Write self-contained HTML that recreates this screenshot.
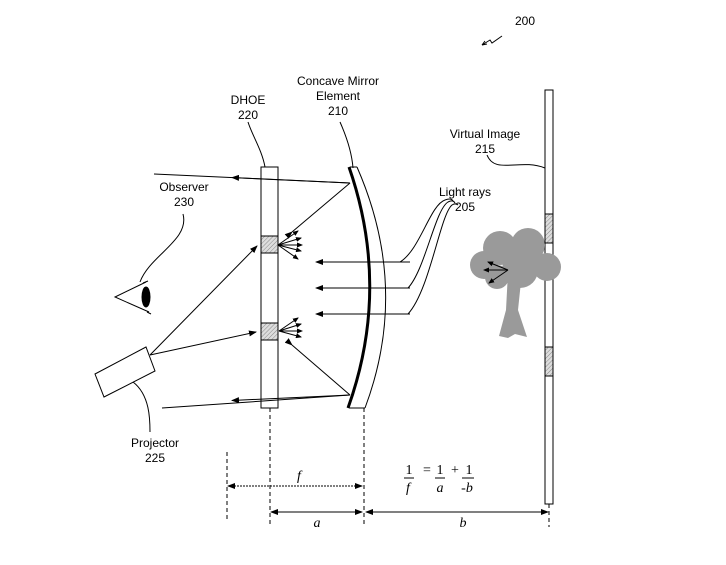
<!DOCTYPE html>
<html><head><style>
body{margin:0;background:#fff;}
svg{display:block;font-family:"Liberation Sans",sans-serif;}
</style></head><body>
<svg width="726" height="565" viewBox="0 0 726 565" xmlns="http://www.w3.org/2000/svg">
<defs>
<marker id="ar" markerWidth="8" markerHeight="6" refX="7" refY="3" orient="auto" markerUnits="userSpaceOnUse"><path d="M0,0 L8,3 L0,6 z" fill="#000"/></marker>
<marker id="as" markerWidth="6" markerHeight="5" refX="5" refY="2.5" orient="auto" markerUnits="userSpaceOnUse"><path d="M0,0 L6,2.5 L0,5 z" fill="#000"/></marker>
<marker id="al" markerWidth="8" markerHeight="6" refX="1" refY="3" orient="auto" markerUnits="userSpaceOnUse"><path d="M8,0 L0,3 L8,6 z" fill="#000"/></marker>
<pattern id="h" width="3" height="3" patternUnits="userSpaceOnUse" patternTransform="rotate(45)"><rect width="3" height="3" fill="#ddd"/><line x1="0" y1="0" x2="0" y2="3" stroke="#888" stroke-width="1"/></pattern>
</defs>
<g stroke="#000" fill="none" stroke-width="1">
<path d="M482,45 l8,-5 l2,3 l10,-7" />
<path d="M482,45 l3,-4 M482,45 l5,-1"/>
<rect x="261" y="167" width="17" height="241" fill="#fff"/>
<rect x="261" y="236" width="17" height="17" fill="url(#h)"/>
<rect x="261" y="323" width="17" height="17" fill="url(#h)"/>
<path d="M349,167 Q391,288 348,408" stroke-width="3"/>
<path d="M357,167 Q410,288 365,408"/>
<path d="M350,167 L357,167 M349,408 L365,408"/>
<rect x="545" y="90" width="8" height="414" fill="#fff"/>
<rect x="545" y="347" width="8" height="29" fill="url(#h)"/>
<path d="M350,183 L154,174"/><path d="M350,183 L232,177.5" marker-end="url(#ar)"/>
<path d="M350,395 L162,408"/><path d="M350,395 L232,400.5" marker-end="url(#ar)"/>
<path d="M150,355 L257,246" marker-end="url(#ar)"/>
<path d="M150,355 L256,332" marker-end="url(#ar)"/>
<path d="M350,183 L292,232" marker-end="url(#al)" />
<path d="M350,395 L292,345" marker-end="url(#al)"/>
<path d="M278,245 L298,231" marker-end="url(#as)"/>
<path d="M278,245 L301,238" marker-end="url(#as)"/>
<path d="M278,245 L302,245" marker-end="url(#as)"/>
<path d="M278,245 L301,251" marker-end="url(#as)"/>
<path d="M278,245 L298,259" marker-end="url(#as)"/>
<path d="M279,331 L298,318" marker-end="url(#as)"/>
<path d="M279,331 L301,324" marker-end="url(#as)"/>
<path d="M279,331 L302,331" marker-end="url(#as)"/>
<path d="M279,331 L301,337" marker-end="url(#as)"/>
<path d="M410,262 L316,262" marker-end="url(#ar)"/>
<path d="M410,288 L316,288" marker-end="url(#ar)"/>
<path d="M410,314 L316,314" marker-end="url(#ar)"/>
<path d="M400,262 C420,250 430,205 445,200 C450,198 452,199 453,201"/>
<path d="M408,288 C425,270 435,210 448,202 C452,200 454,201 455,203"/>
<path d="M408,314 C430,290 440,215 452,205 C455,203 457,204 458,205"/>
<path d="M487,155 C495,175 520,158 545,168"/>
<path d="M340,122 C348,140 352,155 353,168"/>
<path d="M248,122 C252,135 262,150 265,167"/>
<path d="M183,214 C190,240 150,255 140,282"/>
<path d="M133,382 C150,395 150,420 150,432"/>
<path d="M146,282 L115,297 L149,312"/>
<path d="M143,283 L148,281 M147,312 L151,314"/>
<ellipse cx="146" cy="297" rx="4" ry="10" fill="#000"/>
<path d="M95,374 L146,347 L155,371 L104,397 Z" fill="#fff"/>
<g stroke-dasharray="4,3">
<path d="M270,408 L270,527"/><path d="M364,408 L364,527"/>
<path d="M227,452 L227,522"/><path d="M549,504 L549,527"/>
</g>
<path d="M228,486 L362,486" marker-start="url(#al)" marker-end="url(#ar)" stroke-dasharray="2,1"/>
<path d="M271,512 L362,512" marker-start="url(#al)" marker-end="url(#ar)"/>
<path d="M366,512 L548,512" marker-start="url(#al)" marker-end="url(#ar)"/>
</g>
<g fill="#9a9a9a">
<circle cx="484" cy="265" r="14"/><circle cx="500" cy="248" r="17"/><circle cx="528" cy="245" r="17"/>
<circle cx="547" cy="267" r="14"/><circle cx="520" cy="270" r="18"/><circle cx="497" cy="277" r="12"/>
<path d="M508,272 L522,272 L518,310 L527,337 L515,334 L508,338 L499,336 L506,310 Z"/>
</g>
<g stroke="#000" fill="none">
<path d="M508,270 L488,262" marker-end="url(#as)"/><path d="M508,270 L484,270" marker-end="url(#as)"/><path d="M508,270 L489,283" marker-end="url(#as)"/>
</g>
<rect x="545" y="214" width="8" height="29" fill="url(#h)" stroke="#000"/>
<g font-size="12" fill="#000" text-anchor="middle">
<text x="525" y="25">200</text>
<text x="338" y="85">Concave Mirror</text><text x="338" y="100">Element</text><text x="338" y="115">210</text>
<text x="248" y="104">DHOE</text><text x="248" y="119">220</text>
<text x="184" y="191">Observer</text><text x="184" y="206">230</text>
<text x="465" y="196">Light rays</text><text x="465" y="211">205</text>
<text x="485" y="138">Virtual Image</text><text x="485" y="153">215</text>
<text x="155" y="447">Projector</text><text x="155" y="462">225</text>
</g>
<g font-family="Liberation Serif,serif" font-size="14" font-style="italic" text-anchor="middle" fill="#000">
<text x="299" y="480">f</text><text x="317" y="527">a</text><text x="463" y="527">b</text>
<text x="409" y="474" font-style="normal">1</text><line x1="404" y1="478" x2="414" y2="478" stroke="#000"/><text x="408" y="492">f</text>
<text x="427" y="474" font-style="normal">=</text>
<text x="440" y="474" font-style="normal">1</text><line x1="435" y1="478" x2="445" y2="478" stroke="#000"/><text x="440" y="492">a</text>
<text x="455" y="474" font-style="normal">+</text>
<text x="469" y="474" font-style="normal">1</text><line x1="462" y1="478" x2="474" y2="478" stroke="#000"/><text x="467" y="492">-b</text>
</g>
</svg>
</body></html>
